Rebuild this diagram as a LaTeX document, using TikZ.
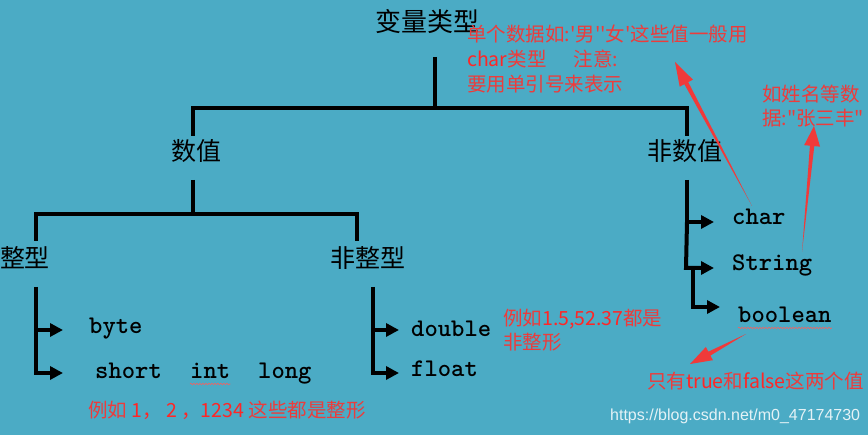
\documentclass[tikz,border=0pt]{standalone}
\usepackage{fontspec}
\newfontfamily\cjk{Noto Sans CJK SC}
\newfontfamily\wmfont{Liberation Sans}
\usetikzlibrary{arrows.meta,calc,decorations.pathmorphing}
\definecolor{bg}{RGB}{75,171,197}
\definecolor{notered}{RGB}{236,60,60}
\definecolor{arrred}{RGB}{240,58,58}
\newcommand\taperarrow[4]{% tail, tip, head length, head half width
  \path ($(#2)!#3!(#1)$) coordinate (hb);
  \fill[arrred] (#1) -- ($(hb)!2.2pt!90:(#2)$) -- ($(hb)!#4!90:(#2)$) -- (#2)
     -- ($(hb)!#4!-90:(#2)$) -- ($(hb)!2.2pt!-90:(#2)$) -- cycle;}
\begin{document}
\begin{tikzpicture}[x=1pt,y=-1pt,
  head/.style={font=\cjk\fontsize{25}{25}\selectfont, inner sep=0, anchor=base},
  code/.style={font=\ttfamily\bfseries\fontsize{25.4}{26}\selectfont, inner sep=0, anchor=base west},
  note/.style={font=\cjk\fontsize{19.5}{25}\selectfont, text=notered, inner sep=0, anchor=base west},
  tree/.style={line width=4pt, line join=miter},
  branch/.style={tree, -{Triangle[length=13pt,width=13pt]}},
  squig/.style={notered!80!white, line width=0.6pt, decorate, decoration={snake, amplitude=0.8pt, segment length=3pt}}]
\fill[bg] (0,0) rectangle (868,435);
\useasboundingbox (0,0) rectangle (868,435);

% headings
\node[head, font=\cjk\fontsize{26}{26}\selectfont] (title) at (427,32) {变量类型};
\node[head] (num) at (196,161) {数值};
\node[head] (nonnum) at (685,161) {非数值};
\node[head] (intt) at (25,268) {整型};
\node[head] (nonint) at (368,268) {非整型};

% codes
\node[code] (byte) at (89,334) {byte};
\node[code] (short) at (95,379) {short};
\node[code] (intk) at (190,379) {int};
\node[code] (long) at (258,379) {long};
\node[code] (double) at (411,337) {double};
\node[code] (float) at (411,377) {float};
\node[code] (char) at (732,225) {char};
\node[code] (string) at (732,271) {String};
\node[code] (boolean) at (738,323) {boolean};

\draw[squig] ([yshift=-5pt]intk.base west) -- ([yshift=-5pt]intk.base east);
\draw[squig] ([yshift=-5pt]boolean.base west) -- ([yshift=-5pt]boolean.base east);

% tree coordinates
\coordinate (t1) at (435,57);
\coordinate (t2) at (435,108);
\coordinate (jl) at (193,108);
\coordinate (jr) at (687,108);
\coordinate (jl2) at (193,136);
\coordinate (jr2) at (687,136);
\draw[tree] (t1) -- (t2);
\draw[tree] (jl2) -- (jl) -- (jr) -- (jr2);

\coordinate (n1) at (193,180);
\coordinate (n2) at (193,214);
\coordinate (nl) at (36,214);
\coordinate (nr) at (357,214);
\coordinate (nl2) at (36,241);
\coordinate (nr2) at (357,241);
\draw[tree] (n1) -- (n2);
\draw[tree] (nl2) -- (nl) -- (nr) -- (nr2);

% integer branch
\coordinate (i1) at (36,287);
\coordinate (i2) at (36,373);
\coordinate (i3) at (36,330);
\draw[branch] (i1) -- (i2) -- (63,373);
\draw[branch] (i3) -- (63,330);

% non-integer branch
\coordinate (f1) at (373,287);
\coordinate (f2) at (373,373);
\coordinate (f3) at (373,330);
\draw[branch] (f1) -- (f2) -- (399,373);
\draw[branch] (f3) -- (399,330);

% non-numeric branch
\coordinate (c1) at (687,180);
\coordinate (c2) at (687,222);
\coordinate (c3) at (686,268);
\coordinate (c4) at (693,268);
\draw[branch] (c1) -- (c2) -- (714,222);
\draw[branch] (c2) -- (c3) -- (714,268);
\draw[branch] (c4) -- (693,307) -- (720,307);

% red notes
\node[note] (n1a) at (467,42) {单个数据如:'男''女'这些值一般用};
\node[note] (n1b) at (467,67) {\textcolor{red!85!white}{char}类型\hspace{27pt}注意:};
\node[note] (n1c) at (467,92) {要用单引号来表示};
\node[note] (n2a) at (762,102) {如姓名等数};
\node[note] (n2b) at (762,126) {据:"张三丰"};
\node[note] (n3a) at (503,326) {例如\textcolor{red!85!white}{1.5,52.37}都是};
\node[note] (n3b) at (503,350) {非整形};
\node[note] (n4) at (647,389) {只有\textcolor{red!85!white}{true}和\textcolor{red!85!white}{false}这两个值};
\node[note] (n5) at (88,418) {例如 \textcolor{red!85!white}{1，\ 2 ，1234} 这些都是整形};

% red arrows
\coordinate (a1t) at (752,206);
\coordinate (a1h) at (675,62);
\taperarrow{a1t}{a1h}{24pt}{7.5pt}
\coordinate (a2t) at (802,252);
\coordinate (a2h) at (814,126);
\taperarrow{a2t}{a2h}{20pt}{8pt}
\coordinate (a3t) at (746,334);
\coordinate (a3h) at (690,364);
\taperarrow{a3t}{a3h}{22pt}{7.5pt}

% watermark
\node[inner sep=0, anchor=base west, font=\wmfont\fontsize{16}{16}\selectfont, text=white, text opacity=0.85] (wm) at (610,421) {https://blog.csdn.net/m0\_47174730};
\end{tikzpicture}
\end{document}
